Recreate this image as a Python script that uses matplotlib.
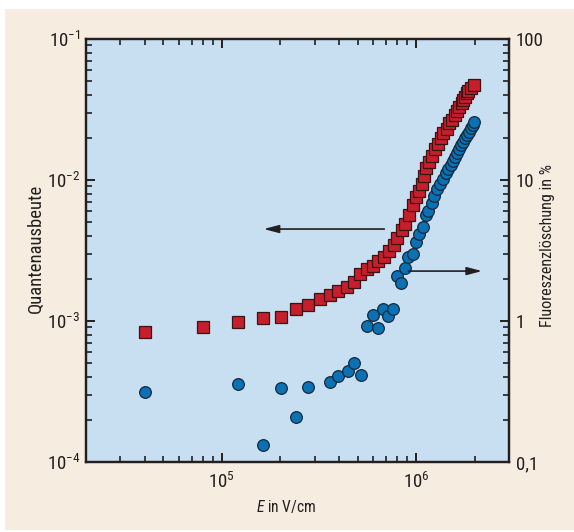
import matplotlib
matplotlib.use("Agg")
import matplotlib.pyplot as plt
from matplotlib import font_manager as fm
from matplotlib.patches import Rectangle
from matplotlib.ticker import LogLocator, FixedLocator, FuncFormatter, NullFormatter

available = {f.name for f in fm.fontManager.ttflist}
condensed = None
for name in ['Roboto Condensed', 'Liberation Sans Narrow', 'Open Sans Condensed', 'Noto Sans Condensed']:
    if name in available:
        condensed = name
        break
main_font = condensed if condensed else 'Roboto'

plt.rcParams['font.family'] = [main_font, 'DejaVu Sans']
plt.rcParams['mathtext.fontset'] = 'custom'
plt.rcParams['mathtext.rm'] = main_font
plt.rcParams['mathtext.it'] = main_font + ':italic'
plt.rcParams['mathtext.bf'] = main_font + ':bold'

# Quantum yield (left axis), red squares
E_yield = [4.0e4, 8.0e4, 1.21e5, 1.62e5, 2.01e5, 2.40e5, 2.79e5, 3.18e5, 3.58e5, 3.98e5,
           4.38e5, 4.81e5, 5.16e5, 5.61e5, 6.02e5, 6.38e5, 6.85e5, 7.27e5, 7.71e5, 8.0e5,
           8.47e5, 8.79e5, 9.2e5, 9.66e5, 1.0e6, 1.036e6, 1.073e6, 1.099e6, 1.125e6, 1.166e6,
           1.208e6, 1.251e6, 1.297e6, 1.343e6, 1.375e6, 1.442e6, 1.476e6, 1.530e6, 1.585e6,
           1.622e6, 1.662e6, 1.721e6, 1.742e6, 1.783e6, 1.828e6, 1.849e6, 1.914e6, 1.983e6]
Q_yield = [8.36e-4, 9.06e-4, 9.84e-4, 1.05e-3, 1.07e-3, 1.22e-3, 1.30e-3, 1.43e-3, 1.53e-3,
           1.63e-3, 1.74e-3, 1.89e-3, 2.15e-3, 2.34e-3, 2.46e-3, 2.67e-3, 2.84e-3, 3.14e-3,
           3.46e-3, 3.88e-3, 4.42e-3, 4.88e-3, 5.65e-3, 6.65e-3, 7.57e-3, 8.36e-3, 9.37e-3,
           1.067e-2, 1.216e-2, 1.34e-2, 1.48e-2, 1.66e-2, 1.80e-2, 1.99e-2, 2.15e-2, 2.30e-2,
           2.54e-2, 2.67e-2, 2.89e-2, 3.09e-2, 3.30e-2, 3.52e-2, 3.69e-2, 3.88e-2, 4.14e-2,
           4.28e-2, 4.49e-2, 4.72e-2]

# Fluorescence quenching in % (right axis), blue circles
E_quench = [4.0e4, 1.21e5, 1.62e5, 2.01e5, 2.40e5, 2.79e5, 3.58e5, 3.98e5, 4.43e5, 4.81e5,
            5.22e5, 5.61e5, 6.02e5, 6.38e5, 6.77e5, 7.18e5, 7.62e5, 8.0e5, 8.38e5, 8.79e5,
            9.1e5, 9.66e5, 1.0e6, 1.036e6, 1.086e6, 1.125e6, 1.153e6, 1.208e6, 1.237e6,
            1.282e6, 1.329e6, 1.375e6, 1.425e6, 1.459e6, 1.511e6, 1.548e6, 1.585e6, 1.622e6,
            1.662e6, 1.702e6, 1.742e6, 1.783e6, 1.828e6, 1.870e6, 1.914e6, 1.960e6, 1.983e6]
F_quench = [0.313, 0.357, 0.132, 0.335, 0.208, 0.340, 0.369, 0.407, 0.442, 0.504,
            0.414, 0.922, 1.10, 0.892, 1.22, 1.08, 1.22, 2.08, 1.86, 2.38,
            2.84, 2.99, 3.63, 4.14, 4.64, 5.65, 6.03, 6.87, 7.70,
            8.63, 9.37, 10.2, 11.2, 12.0, 12.8, 13.6, 14.6, 15.5,
            16.6, 17.7, 18.6, 19.9, 20.9, 21.9, 23.4, 24.5, 25.8]

xlim = (2e4, 3e6)
ylim_left = (1e-4, 1e-1)
ylim_right = (0.1, 100)
right_ticks = [0.1, 1, 10, 100]
right_labels = ['0,1', '1', '10', '100']
xlabel_text = '$E$ in V/cm'
ylabel_left = 'Quantenausbeute'
ylabel_right = 'Fluoreszenzlöschung in %'

BEIGE = '#F6EDE0'
PANEL = '#C8DFF2'
RED = '#C41F2B'
BLUE = '#0A72B4'
INK = '#231f20'

fig = plt.figure(figsize=(5.74, 5.32), dpi=100)
fig.patch.set_facecolor('white')
fig.add_artist(Rectangle((5/574, 2/532), 1 - 5/574, 521/532, transform=fig.transFigure,
                         facecolor=BEIGE, edgecolor='none', zorder=-10))

renderer = fig.canvas.get_renderer()


def fit_size(s, target_px, base=12.0, vertical=False):
    t = fig.text(0, 0, s, fontsize=base, rotation=90 if vertical else 0)
    bb = t.get_window_extent(renderer=renderer)
    t.remove()
    length = bb.height if vertical else bb.width
    return base * target_px / length


tick_fs = 1.18 * 0.5 * (fit_size('10', 15.5) + fit_size('100', 23.5))
xlabel_fs = fit_size(xlabel_text, 60)
ylabel_fs = fit_size(ylabel_left, 128, vertical=True)
ylabel2_fs = fit_size(ylabel_right, 164, vertical=True)

ax = fig.add_axes([86/574, 1 - 462/532, 423/574, 423/532])
ax.set_facecolor(PANEL)
ax.set_xscale('log')
ax.set_yscale('log')
ax.set_xlim(*xlim)
ax.set_ylim(*ylim_left)

ax.plot(E_yield, Q_yield, linestyle='none', marker='s', markersize=8.0,
        markerfacecolor=RED, markeredgecolor='#3a1414', markeredgewidth=0.9, zorder=3)

ax2 = ax.twinx()
ax2.set_yscale('log')
ax2.set_ylim(*ylim_right)
ax2.plot(E_quench, F_quench, linestyle='none', marker='o', markersize=8.4,
         markerfacecolor=BLUE, markeredgecolor='#14283a', markeredgewidth=0.9, zorder=3)

for a in (ax, ax2):
    for s in a.spines.values():
        s.set_linewidth(1.6)
        s.set_color(INK)

ax.xaxis.set_major_locator(LogLocator(base=10, numticks=10))
ax.xaxis.set_minor_locator(LogLocator(base=10, subs=range(2, 10), numticks=20))
ax.xaxis.set_minor_formatter(NullFormatter())
ax.yaxis.set_major_locator(LogLocator(base=10, numticks=10))
ax.yaxis.set_minor_locator(LogLocator(base=10, subs=range(2, 10), numticks=20))
ax.yaxis.set_minor_formatter(NullFormatter())

ax.tick_params(axis='x', which='both', direction='in', top=True, bottom=True, color=INK)
ax.tick_params(axis='y', which='both', direction='in', left=True, right=False, color=INK)
ax.tick_params(which='major', length=6.5, width=1.4, labelsize=tick_fs, labelcolor=INK)
ax.tick_params(which='minor', length=4.2, width=1.2)
ax.tick_params(axis='x', which='major', pad=7)
ax.tick_params(axis='y', which='major', pad=4)

ax2.yaxis.set_major_locator(FixedLocator(right_ticks))
ax2.yaxis.set_major_formatter(FuncFormatter(lambda v, p: right_labels[right_ticks.index(v)] if v in right_ticks else ''))
ax2.yaxis.set_minor_locator(LogLocator(base=10, subs=range(2, 10), numticks=20))
ax2.yaxis.set_minor_formatter(NullFormatter())
ax2.tick_params(axis='y', which='both', direction='in', right=True, color=INK)
ax2.tick_params(which='major', length=6.5, width=1.4, labelsize=tick_fs, labelcolor=INK, pad=5)
ax2.tick_params(which='minor', length=4.2, width=1.2)

ax.set_ylabel(ylabel_left, fontsize=ylabel_fs, color=INK)
ax.yaxis.set_label_coords(-0.097, 0.506)
ax2.set_ylabel(ylabel_right, fontsize=ylabel2_fs, color=INK, rotation=90)
ax2.yaxis.set_label_coords(1.073, 0.513)
ax.set_xlabel(xlabel_text, fontsize=xlabel_fs, color=INK)
ax.xaxis.set_label_coords(0.473, -0.085)

arrow_style = '-|>,head_length=0.65,head_width=0.17'
ax.annotate('', xy=(1.64e5, 4.49e-3), xytext=(6.85e5, 4.49e-3),
            arrowprops=dict(arrowstyle=arrow_style, color=INK, lw=1.2,
                            mutation_scale=14, shrinkA=0, shrinkB=0), zorder=4)
ax2.annotate('', xy=(2.18e6, 2.26), xytext=(9.1e5, 2.26),
             arrowprops=dict(arrowstyle=arrow_style, color=INK, lw=1.2,
                             mutation_scale=14, shrinkA=0, shrinkB=0), zorder=4)

fig.savefig('out.png', dpi=100, facecolor=fig.get_facecolor())
